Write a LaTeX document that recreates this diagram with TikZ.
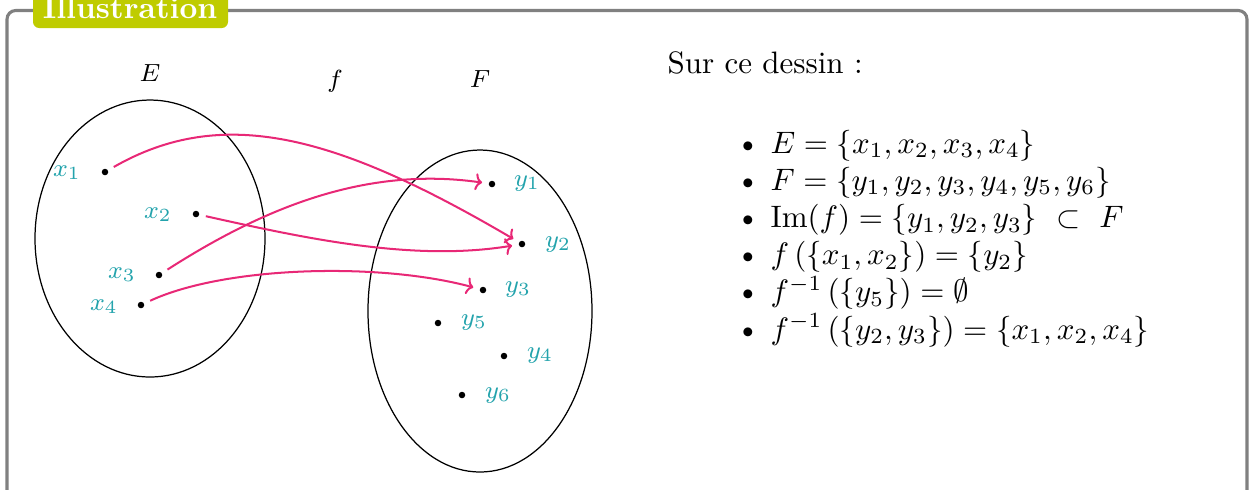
\documentclass[tikz,border=0pt]{standalone}
\usetikzlibrary{arrows.meta}
\definecolor{framegray}{RGB}{128,128,128}
\definecolor{titlelime}{RGB}{191,204,0}
\definecolor{ptcol}{RGB}{35,163,172}
\definecolor{arrcol}{RGB}{232,40,118}
\begin{document}
\begin{tikzpicture}[x=0.32258pt,y=-0.32258pt,
  dot/.style={circle,fill=black,inner sep=0pt,minimum size=2.1pt},
  ptlabel/.style={text=ptcol,font=\footnotesize,inner sep=0pt,anchor=base},
  setlabel/.style={font=\footnotesize,inner sep=0pt,anchor=base},
  maparrow/.style={draw=arrcol,line width=0.65pt,-{To[length=2.2pt,width=5.5pt]},shorten <=2pt,shorten >=2pt},
  setshape/.style={draw=black,line width=0.4pt},
  listline/.style={anchor=base west,inner sep=0pt},
  bul/.style={anchor=base,inner sep=0pt}]
\useasboundingbox (0,0) rectangle (1250,489);
\clip (0,0) rectangle (1250,489);
% frame
\draw[framegray,line width=1pt,rounded corners=2.8pt] (7,10.5) rectangle (1247,540);
\fill[titlelime,rounded corners=2pt] (33,-30) rectangle (228,28);
\node[text=white,font=\bfseries,anchor=base,inner sep=0pt] (title) at (130,18) {Illustration};
% sets
\draw[setshape] (150,238.5) ellipse [x radius=115, y radius=138.5];
\draw[setshape] (480,311) ellipse [x radius=112, y radius=161];
\node[setlabel] (Elab) at (150,81) {$E$};
\node[setlabel] (flab) at (335,87) {$f$};
\node[setlabel] (Flab) at (480,87) {$F$};
% points of E
\node[dot] (x1) at (105,172) {};
\node[dot] (x2) at (196,214) {};
\node[dot] (x3) at (159,275) {};
\node[dot] (x4) at (141,305) {};
\node[ptlabel] (lx1) at (67,176) {$x_1$};
\node[ptlabel] (lx2) at (158,218) {$x_2$};
\node[ptlabel] (lx3) at (122,278) {$x_3$};
\node[ptlabel] (lx4) at (104,310) {$x_4$};
% points of F
\node[dot] (y1) at (492,184) {};
\node[dot] (y2) at (522,244) {};
\node[dot] (y3) at (483,290) {};
\node[dot] (y5) at (438,323) {};
\node[dot] (y4) at (504,356) {};
\node[dot] (y6) at (462,395) {};
\node[ptlabel] (ly1) at (527,186) {$y_1$};
\node[ptlabel] (ly2) at (558,247) {$y_2$};
\node[ptlabel] (ly3) at (518,292) {$y_3$};
\node[ptlabel] (ly5) at (474,325) {$y_5$};
\node[ptlabel] (ly4) at (540,358) {$y_4$};
\node[ptlabel] (ly6) at (498,398) {$y_6$};
% arrows
\draw[maparrow] (x1) .. controls +(117,-67) and +(-187,-110) .. (y2);
\draw[maparrow] (x2) .. controls +(108,24) and +(-109,18) .. (y2);
\draw[maparrow] (x3) .. controls +(106,-68) and +(-125,-18) .. (y1);
\draw[maparrow] (x4) .. controls +(84,-39) and +(-103,-28) .. (y3);
% text
\node[anchor=base west,inner sep=0pt] (intro) at (667,73) {Sur ce dessin~:};
\node[bul] (b1) at (748,153) {\textbullet};
\node[bul] (b2) at (748,190.2) {\textbullet};
\node[bul] (b3) at (748,227.4) {\textbullet};
\node[bul] (b4) at (748,264.6) {\textbullet};
\node[bul] (b5) at (748,301.8) {\textbullet};
\node[bul] (b6) at (748,339) {\textbullet};
\node[listline] (l1) at (770,153) {$E=\{x_1,x_2,x_3,x_4\}$};
\node[listline] (l2) at (770,190.2) {$F=\{y_1,y_2,y_3,y_4,y_5,y_6\}$};
\node[listline] (l3) at (770,227.4) {$\mathrm{Im}(f)=\{y_1,y_2,y_3\}\ \subset\ F$};
\node[listline] (l4) at (770,264.6) {$f\left(\{x_1,x_2\}\right)=\{y_2\}$};
\node[listline] (l5) at (770,301.8) {$f^{-1}\left(\{y_5\}\right)=\emptyset$};
\node[listline] (l6) at (770,339) {$f^{-1}\left(\{y_2,y_3\}\right)=\{x_1,x_2,x_4\}$};
\end{tikzpicture}
\end{document}
